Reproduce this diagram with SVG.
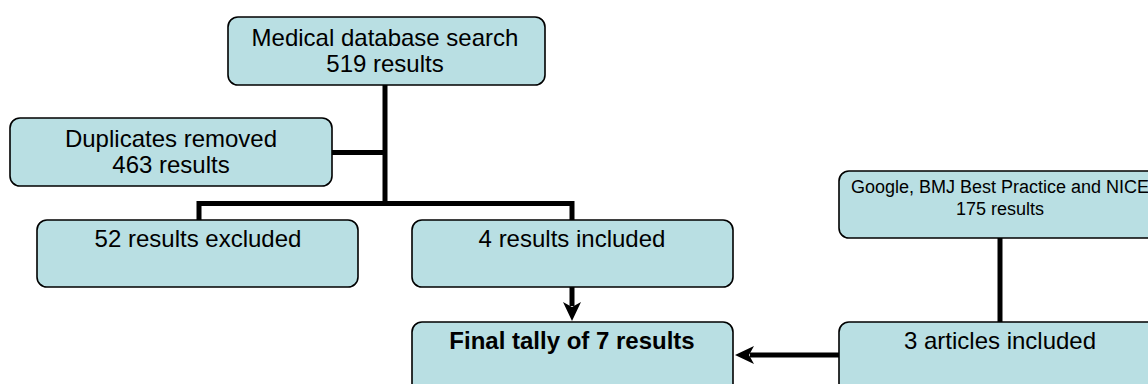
<svg xmlns="http://www.w3.org/2000/svg" width="1148" height="384" viewBox="0 0 1148 384">
<style>
.box{fill:#b9dfe3;stroke:#000;stroke-width:1.6}
.t{font-family:"Liberation Sans",Arial,sans-serif;font-size:24px;fill:#000;text-anchor:middle}
.s{font-size:18px}
.b{font-weight:bold}
.c{fill:none;stroke:#000;stroke-width:5}
.ah{fill:#000}
</style>
<rect width="1148" height="384" fill="#fff"/>
<g id="connectors">
<path class="c" d="M385,85 V203.5"/>
<path class="c" d="M332,152.5 H385"/>
<path class="c" d="M199,220 V203.5 H572 V220"/>
<path class="c" d="M572,287 V306"/>
<path class="ah" d="M563,302 L572,321 L581,302 L572,307 Z"/>
<path class="c" d="M1000,238 V322"/>
<path class="c" d="M839,355 H750"/>
<path class="ah" d="M754,346 L735,355 L754,364 L749,355 Z"/>
</g>
<g id="n1"><rect class="box" x="228" y="17" width="317" height="68" rx="10"/>
<text class="t" x="385" y="45.5">Medical database search</text>
<text class="t" x="385" y="71.5">519 results</text></g>
<g id="n2"><rect class="box" x="10" y="118" width="322" height="68" rx="10"/>
<text class="t" x="171" y="146.5">Duplicates removed</text>
<text class="t" x="171" y="172.5">463 results</text></g>
<g id="n3"><rect class="box" x="37" y="220" width="321" height="67" rx="10"/>
<text class="t" x="198" y="247">52 results excluded</text></g>
<g id="n4"><rect class="box" x="412" y="220" width="321" height="67" rx="10"/>
<text class="t" x="572" y="247">4 results included</text></g>
<g id="n5"><rect class="box" x="412" y="322" width="321" height="80" rx="10"/>
<text class="t b" x="572" y="349">Final tally of 7 results</text></g>
<g id="n6"><rect class="box" x="839" y="171" width="322" height="67" rx="10"/>
<text class="t s" x="1000" y="193">Google, BMJ Best Practice and NICE</text>
<text class="t s" x="1000" y="215">175 results</text></g>
<g id="n7"><rect class="box" x="839" y="322" width="322" height="80" rx="10"/>
<text class="t" x="1000" y="349">3 articles included</text></g>
</svg>
